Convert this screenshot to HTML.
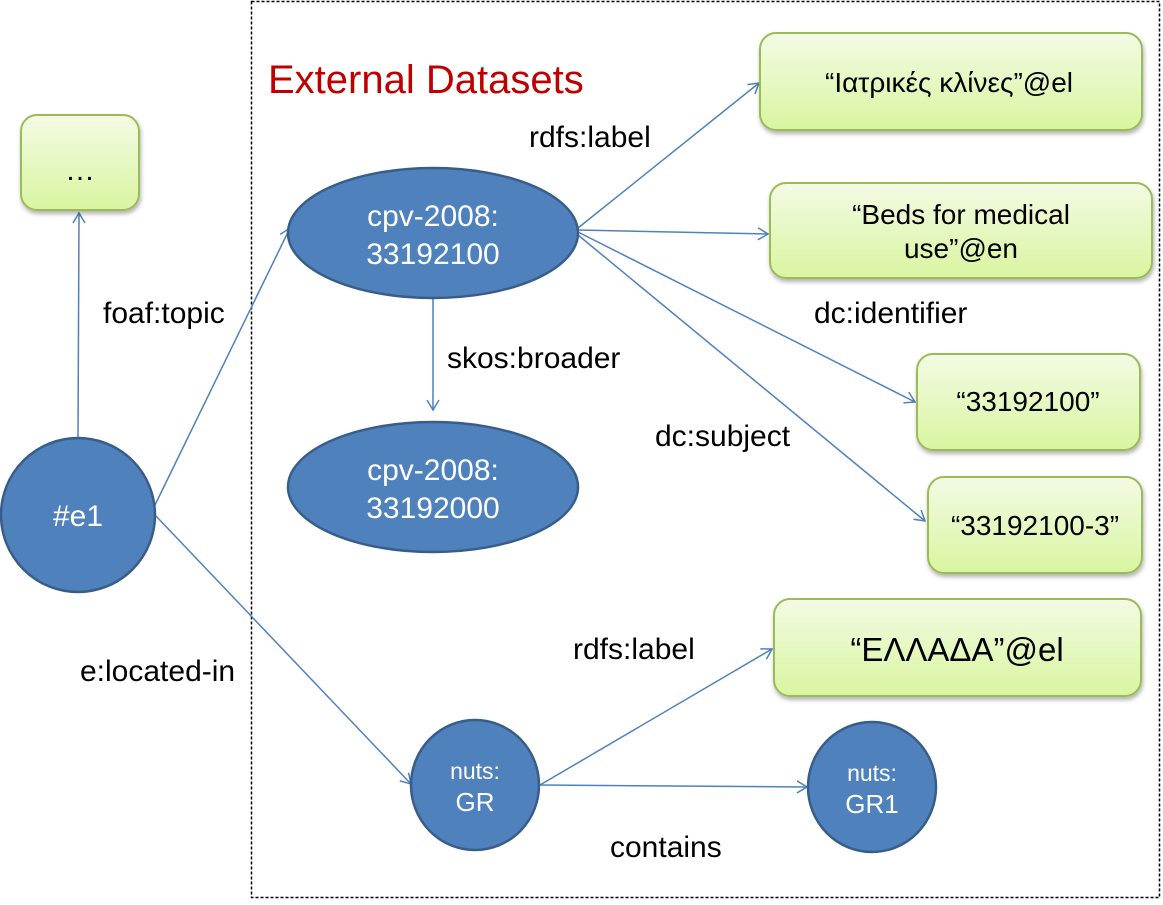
<!DOCTYPE html>
<html><head><meta charset="utf-8"><style>
body{margin:0;background:#fff;}
svg text{font-family:"Liberation Sans","DejaVu Sans",sans-serif;}
</style></head><body>
<svg width="1163" height="900" xmlns="http://www.w3.org/2000/svg">
<defs>
<linearGradient id="g" x1="0" y1="0" x2="0" y2="1"><stop offset="0" stop-color="#f3fbe4"/><stop offset="1" stop-color="#d9f5a0"/></linearGradient>
<marker id="a" markerWidth="14" markerHeight="14" refX="11" refY="7" orient="auto" markerUnits="userSpaceOnUse"><path d="M1,1 L11,7 L1,13" fill="none" stroke="#4f81bd" stroke-width="1.5"/></marker>
<filter id="s" x="-10%" y="-10%" width="130%" height="130%"><feDropShadow dx="1" dy="3" stdDeviation="2" flood-color="#000" flood-opacity="0.3"/></filter>
</defs>
<rect x="251.5" y="1.5" width="908" height="896" fill="none" stroke="#000" stroke-width="1.5" stroke-dasharray="3,2"/>
<text x="268" y="93" font-size="40" fill="#c00000">External Datasets</text>
<g stroke="#4f81bd" stroke-width="1.5" fill="none" marker-end="url(#a)">
<line x1="78" y1="437" x2="79" y2="213"/>
<line x1="155" y1="505" x2="290" y2="228"/>
<line x1="155" y1="515" x2="411" y2="784"/>
<line x1="578" y1="228" x2="759" y2="83"/>
<line x1="578" y1="230" x2="768" y2="234"/>
<line x1="578" y1="232" x2="915" y2="402"/>
<line x1="578" y1="235" x2="925" y2="521"/>
<line x1="433" y1="298" x2="433" y2="410"/>
<line x1="540" y1="785" x2="772" y2="649"/>
<line x1="540" y1="785" x2="807" y2="787"/>
</g>
<g fill="url(#g)" stroke="#9bbb59" stroke-width="2" filter="url(#s)">
<rect x="21" y="115" width="118" height="95" rx="16"/>
<rect x="760" y="33" width="382" height="97" rx="16"/>
<rect x="770" y="183" width="382" height="95" rx="16"/>
<rect x="917" y="354" width="223" height="96" rx="16"/>
<rect x="928" y="477" width="214" height="96" rx="16"/>
<rect x="774" y="599" width="367" height="97" rx="16"/>
</g>
<g fill="#4f81bd" stroke="#385d8a" stroke-width="2.5">
<circle cx="78" cy="515" r="77"/>
<ellipse cx="433" cy="233" rx="145" ry="65"/>
<ellipse cx="433" cy="487" rx="145" ry="65"/>
<ellipse cx="475" cy="785" rx="64" ry="65"/>
<ellipse cx="872" cy="787" rx="64" ry="65"/>
</g>
<g fill="#fff" text-anchor="middle">
<text x="78" y="526" font-size="30">#e1</text>
<text x="433" y="226" font-size="30">cpv-2008:</text>
<text x="433" y="264" font-size="30">33192100</text>
<text x="433" y="480" font-size="30">cpv-2008:</text>
<text x="433" y="518" font-size="30">33192000</text>
<text x="475" y="779" font-size="23">nuts:</text>
<text x="475" y="811" font-size="26">GR</text>
<text x="872" y="781" font-size="23">nuts:</text>
<text x="872" y="813" font-size="26">GR1</text>
</g>
<g fill="#000" text-anchor="middle" font-size="28">
<text x="80" y="180" font-size="30">…</text>
<text x="949" y="92">“Ιατρικές κλίνες”@el</text>
<text x="961" y="224">“Beds for medical</text>
<text x="961" y="258">use”@en</text>
<text x="1028" y="411">“33192100”</text>
<text x="1035" y="535">“33192100-3”</text>
<text x="957" y="661" font-size="33">“ΕΛΛΑΔΑ”@el</text>
</g>
<g fill="#000" font-size="30">
<text x="103" y="323">foaf:topic</text>
<text x="529" y="147">rdfs:label</text>
<text x="814" y="323">dc:identifier</text>
<text x="447" y="368">skos:broader</text>
<text x="655" y="446">dc:subject</text>
<text x="80" y="681">e:located-in</text>
<text x="573" y="659">rdfs:label</text>
<text x="610" y="857">contains</text>
</g>
</svg>
</body></html>
